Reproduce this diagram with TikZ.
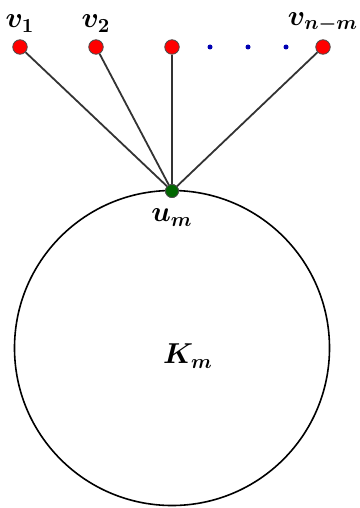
\documentclass[tikz,border=0pt]{standalone}
\usepackage{amsmath,amssymb}
\usepackage{bm}
\usepackage{tikz}
\usetikzlibrary{calc,positioning}

\begin{document}
\begin{tikzpicture}[x=0.5pt,y=-0.5pt,font=\Large,
    leaf/.style={circle,draw=black!70,fill=red,inner sep=0pt,minimum size=14.5*0.5pt},
    root/.style={circle,draw=black!70,fill=green!40!black,inner sep=0pt,minimum size=13*0.5pt},
    gap/.style={circle,fill=blue!70!black,inner sep=0pt,minimum size=5*0.5pt}]
  \useasboundingbox (0,0) rectangle (359,508);
  % the clique K_m
  \draw[line width=0.8pt] (172,348) circle (157.5*0.5pt);
  \node at (188,356) {$\bm{K_m}$};
  % the pendant vertices
  \node[root] (um) at (172,191) {};
  \node[leaf] (v1) at (20,47) {};
  \node[leaf] (v2) at (96,47) {};
  \node[leaf] (v3) at (172,47) {};
  \node[leaf] (vn) at (323,47) {};
  \foreach \x/\n in {210/d1,248/d2,286/d3}
    \node[gap] (\n) at (\x,47) {};
  \foreach \v in {v1,v2,v3,vn}
    \draw[line width=0.9pt,black!80] (\v) -- (um);
  \node[root] at (um) {};
  \node[above=0pt of v1] {$\bm{v_1}$};
  \node[above=0pt of v2] {$\bm{v_2}$};
  \node[above=0pt of vn] {$\bm{v_{n-m}}$};
  \node[below=2pt of um] {$\bm{u_m}$};
\end{tikzpicture}
\end{document}
